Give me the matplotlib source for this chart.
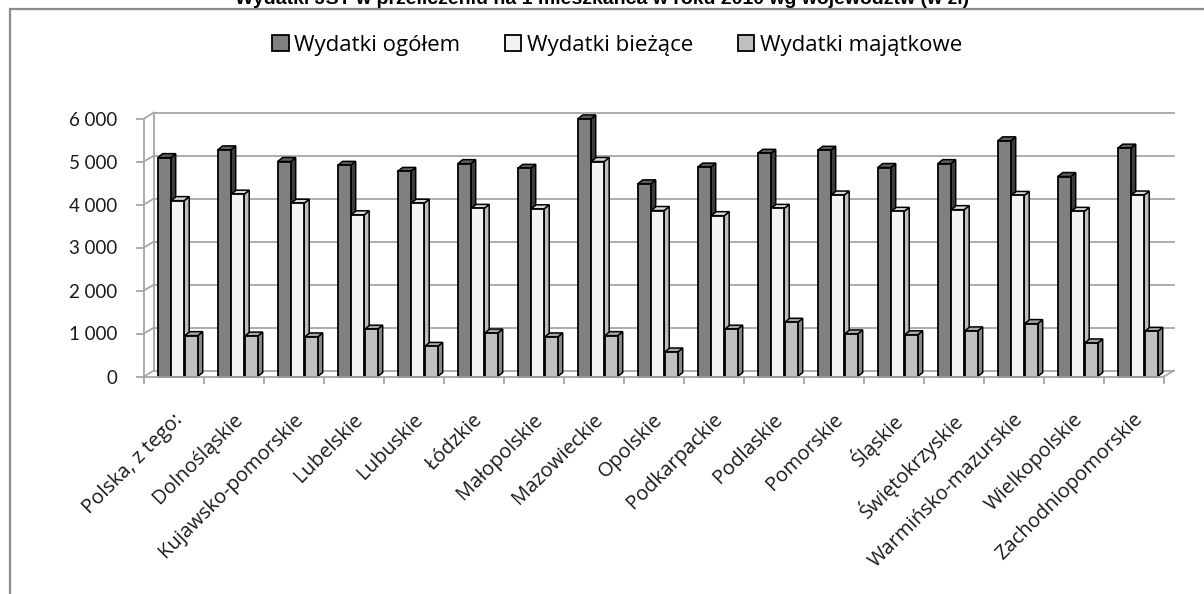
import numpy as np
import matplotlib.pyplot as plt
from matplotlib.patches import Polygon, Rectangle, Patch
from matplotlib.transforms import ScaledTranslation

# data
categories = ['Polska, z tego:', 'Dolnośląskie', 'Kujawsko-pomorskie', 'Lubelskie',
              'Lubuskie', 'Łódzkie', 'Małopolskie', 'Mazowieckie', 'Opolskie',
              'Podkarpackie', 'Podlaskie', 'Pomorskie', 'Śląskie', 'Świętokrzyskie',
              'Warmińsko-mazurskie', 'Wielkopolskie', 'Zachodniopomorskie']
ogolem = [5090, 5270, 5000, 4910, 4770, 4950, 4840, 5990, 4480, 4870, 5190, 5260, 4860, 4950, 5480, 4650, 5310]
biezace = [4090, 4240, 4030, 3760, 4030, 3910, 3900, 5000, 3860, 3740, 3910, 4220, 3840, 3880, 4210, 3840, 4220]
majatkowe = [950, 940, 920, 1100, 700, 1010, 920, 950, 570, 1100, 1260, 990, 970, 1060, 1230, 780, 1050]
series_names = ['Wydatki ogółem', 'Wydatki bieżące', 'Wydatki majątkowe']
yticks = [0, 1000, 2000, 3000, 4000, 5000, 6000]
ytick_labels = ['0', '1 000', '2 000', '3 000', '4 000', '5 000', '6 000']
title = 'Wydatki JST w przeliczeniu na 1 mieszkańca w roku 2010 wg województw (w zł)'

front_cols = ['#808080', '#f2f2f2', '#c0c0c0']
side_cols = ['#3c3c3c', '#bdbdbd', '#8a8a8a']
top_cols = ['#5e5e5e', '#dcdcdc', '#a8a8a8']
grid_col = '#a6a6a6'

W, H = 1204, 594
fig = plt.figure(figsize=(W / 100, H / 100), dpi=100)
fig.patch.set_facecolor('white')

# plot area in pixels (front axis)
x0, x1 = 144, 1164
y0, y1 = 376.5, 118.5
ax = fig.add_axes([x0 / W, 1 - y0 / H, (x1 - x0) / W, (y0 - y1) / H])
n = len(categories)
ax.set_xlim(-0.5, n - 0.5)
ax.set_ylim(0, 6000)
for s in ax.spines.values():
    s.set_visible(False)

px_x = n / (x1 - x0)          # data units per pixel (x)
px_y = 6000 / (y0 - y1)       # data units per pixel (y)

# back wall / floor
wdx, wdy = 10 * px_x, 6 * px_y
lkw = dict(color=grid_col, lw=1.3, clip_on=False, zorder=1)
for v in yticks:
    ax.plot([-0.5 + wdx, n - 0.5 + wdx], [v + wdy, v + wdy], **lkw)
    ax.plot([-0.5, -0.5 + wdx], [v, v + wdy], **lkw)
ax.plot([-0.5 + wdx, -0.5 + wdx], [wdy, 6000 + wdy], **lkw)
ax.plot([n - 0.5, n - 0.5 + wdx], [0, wdy], **lkw)
ax.plot([-0.5, -0.5], [0, 6000], **lkw)
ax.plot([-0.5, n - 0.5], [0, 0], color=grid_col, lw=1.3, clip_on=False, zorder=10)

# bars with a fake 3d look
bw = 13 * px_x
step = 13.5 * px_x
shift = 3.7 * px_x
ddx, ddy = 5 * px_x, 4 * px_y
xs = np.arange(n)
for i, vals in enumerate([ogolem, biezace, majatkowe]):
    z = 3 + i
    pos = xs + shift + (i - 1) * step
    ax.bar(pos, vals, width=bw, color=front_cols[i], edgecolor='black', lw=1.3,
           zorder=z + 0.5, clip_on=False)
    for xc, h in zip(pos, vals):
        xl, xr = xc - bw / 2, xc + bw / 2
        side = Polygon([(xr, 0), (xr + ddx, ddy), (xr + ddx, h + ddy), (xr, h)],
                       closed=True, fc=side_cols[i], ec='black', lw=1.1, zorder=z, clip_on=False)
        top = Polygon([(xl, h), (xl + ddx, h + ddy), (xr + ddx, h + ddy), (xr, h)],
                      closed=True, fc=top_cols[i], ec='black', lw=1.1, zorder=z, clip_on=False)
        ax.add_patch(side)
        ax.add_patch(top)

ax.set_yticks(yticks)
ax.set_yticklabels(ytick_labels, fontsize=13.5, family=['Lato', 'DejaVu Sans'], color='#1a1a1a')
ax.tick_params(axis='y', length=6, width=1.3, color=grid_col, pad=13)
ax.set_xticks(xs)
ax.set_xticklabels(categories, rotation=45, ha='right', va='center', rotation_mode='anchor',
                   fontsize=14.5, family=['Open Sans', 'DejaVu Sans'], color='#1a1a1a')
ax.tick_params(axis='x', length=0, pad=29)
shift_lbl = ScaledTranslation(6 / 100, 0, fig.dpi_scale_trans)
for lbl in ax.get_xticklabels():
    lbl.set_transform(lbl.get_transform() + shift_lbl)
ax.set_xticks(np.arange(n + 1) - 0.5, minor=True)
ax.tick_params(axis='x', which='minor', length=5, width=1.3, color=grid_col)

# legend
handles = [Patch(fc=front_cols[i], ec='black', lw=1.3) for i in range(3)]
fig.legend(handles, series_names, loc='center', bbox_to_anchor=(617 / W, 1 - 45 / H), ncol=3,
           frameon=False, prop={'family': ['Open Sans', 'DejaVu Sans'], 'size': 16},
           handlelength=0.75, handleheight=0.7, handletextpad=0.25, columnspacing=2.0)

# chart frame and clipped title
fig.add_artist(Rectangle((10 / W, -0.1), 1.2, 1.1 - 9 / H, transform=fig.transFigure,
                         fill=False, ec='#8c8c8c', lw=1.6))
fig.text(0.5, 1 - 4 / H, title, ha='center', va='baseline', fontsize=14,
         fontweight='bold', family='Liberation Sans')

fig.savefig('out.png', dpi=100)
